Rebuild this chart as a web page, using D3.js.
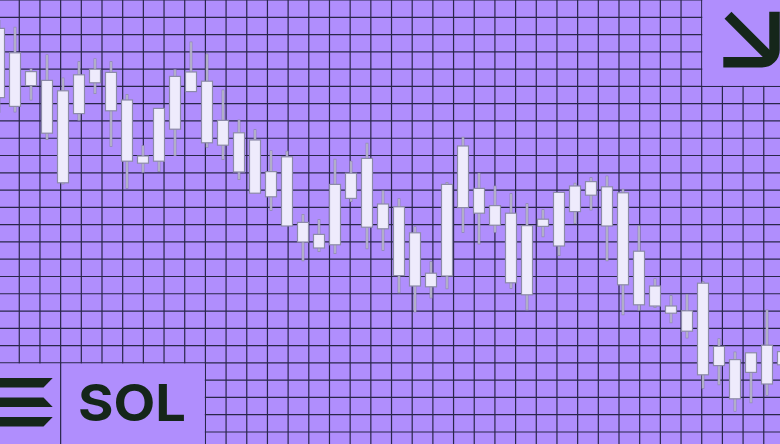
<!DOCTYPE html>
<html><head><meta charset="utf-8">
<script src="https://cdn.jsdelivr.net/npm/d3@7"></script>
<style>html,body{margin:0;padding:0;background:#b08efd;overflow:hidden}</style>
</head><body><svg id="c" width="780" height="444"></svg>
<script>
// ---- data (price units) ----
const high = [206.0,204.3,193.9,197.4,191.6,195.7,196.4,195.7,187.5,174.7,183.9,193.7,200.6,197.6,188.6,181.1,178.7,173.4,173.3,157.5,156.2,171.3,170.8,175.3,163.4,161.4,154.4,145.7,165.5,176.8,167.8,164.6,162.7,160.2,158.7,162.9,165.3,166.7,167.1,163.8,154.7,141.4,137.2,137.5,140.7,126.4,123.1,122.8,133.6,125.3];
const bodyHigh = [203.9,197.8,193.1,190.9,188.3,192.3,193.7,192.9,186.0,172.0,183.9,191.9,193.0,190.7,180.9,177.8,176.0,168.1,171.8,155.4,152.4,164.9,167.7,171.4,160.0,159.3,152.8,142.7,164.9,174.5,163.9,159.6,157.7,154.6,156.2,162.9,164.5,165.6,164.3,162.8,148.2,139.5,134.5,133.3,140.2,124.4,121.1,122.8,124.7,123.1];
const bodyLow = [186.6,184.4,189.6,177.7,165.3,182.6,190.3,183.3,170.7,170.2,170.7,178.7,188.1,175.3,174.7,168.0,162.7,161.8,154.5,150.5,149.0,149.8,161.4,154.2,153.8,142.1,139.5,139.3,142.0,159.1,157.7,154.7,140.3,137.3,154.4,149.5,158.1,162.2,154.5,139.8,134.8,134.5,132.7,128.2,117.3,119.6,111.3,117.9,115.0,119.8];
const low = [182.8,182.9,185.9,176.0,164.9,180.8,187.5,174.3,163.8,167.8,168.0,172.0,188.1,174.1,171.0,166.0,162.7,158.3,154.5,145.7,148.0,147.5,160.5,148.7,148.3,137.7,132.9,136.4,138.7,152.8,149.9,152.8,138.8,133.4,151.7,147.0,155.0,158.4,145.7,132.2,133.3,134.0,130.2,126.4,113.8,114.7,108.1,110.2,112.1,118.0];
const candles = d3.range(high.length);
const gridCols = d3.range(0, 39);
const gridRows = d3.range(0, 27);
const ticker = "SOL";

const W = 780, H = 444;
const BG = "#b08efd", GRID = "#29264a", INK = "#15261a";
const svg = d3.select("#c");

const x = d3.scaleLinear().domain([0, 49]).range([-1, 783]);
const y = d3.scaleLinear().domain([100, 211]).range([H, 0]);
const gx = d3.scaleLinear().domain([0, 38]).range([-1.4, -1.4 + 20.68 * 38]);
const gy = d3.scaleLinear().domain([0, 26]).range([0, 17.28 * 26]);

svg.append("rect").attr("width", W).attr("height", H).attr("fill", BG);

const grid = svg.append("g").attr("stroke", GRID).attr("stroke-width", 1.2);
grid.selectAll("line.v").data(gridCols).join("line").attr("class", "v")
  .attr("x1", d => gx(d)).attr("x2", d => gx(d)).attr("y1", 0).attr("y2", H);
grid.selectAll("line.h").data(gridRows).join("line").attr("class", "h")
  .attr("y1", d => gy(d)).attr("y2", d => gy(d)).attr("x1", 0).attr("x2", W);

// panels without grid
svg.append("rect").attr("x", gx(34) + 0.6).attr("y", -1)
  .attr("width", W - gx(34)).attr("height", gy(5) - 0.6 + 1).attr("fill", BG);
svg.append("rect").attr("x", -1).attr("y", gy(21) + 0.6)
  .attr("width", gx(10) - 0.6 + 1).attr("height", H - gy(21)).attr("fill", BG);
svg.append("line").attr("x1", gx(3)).attr("x2", gx(3)).attr("y1", gy(21)).attr("y2", H)
  .attr("stroke", GRID).attr("stroke-width", 1.2);

// candles
const cg = svg.append("g");
cg.selectAll("line.wick").data(candles).join("line").attr("class", "wick")
  .attr("x1", i => x(i)).attr("x2", i => x(i))
  .attr("y1", i => y(high[i])).attr("y2", i => y(low[i]))
  .attr("stroke", "#8d8ba9").attr("stroke-width", 2.8);
cg.selectAll("line.wickc").data(candles).join("line").attr("class", "wickc")
  .attr("x1", i => x(i)).attr("x2", i => x(i))
  .attr("y1", i => y(high[i]) + 0.7).attr("y2", i => y(low[i]) - 0.7)
  .attr("stroke", "#cfcde2").attr("stroke-width", 1.1);
cg.selectAll("rect.body").data(candles).join("rect").attr("class", "body")
  .attr("x", i => x(i) - 5.5).attr("width", 11)
  .attr("y", i => y(bodyHigh[i])).attr("height", i => y(bodyLow[i]) - y(bodyHigh[i]))
  .attr("fill", "#eeebfc").attr("stroke", "#8c8aa8").attr("stroke-width", 1.2);

// arrow icon
svg.append("path").attr("d", "M728,15.3 L772,59.3").attr("stroke", INK)
  .attr("stroke-width", 9.8).attr("fill", "none");
svg.append("path").attr("d", "M723.3,62.2 H762 A12.5 12.5 0 0 0 774.5 49.7 V11.7")
  .attr("stroke", INK).attr("stroke-width", 10.5).attr("fill", "none");

// Solana mark
const bars = [
  [[-30,378],[52.7,378],[43.5,387.5],[-30,387.5]],
  [[-30,397.5],[43.5,397.5],[52.7,407],[-30,407]],
  [[-30,417],[52.7,417],[43.5,426.5],[-30,426.5]]
];
svg.selectAll("polygon.sol").data(bars).join("polygon").attr("class", "sol")
  .attr("points", d => d.map(p => p.join(",")).join(" ")).attr("fill", INK);

svg.append("text").attr("x", 78).attr("y", 421.3)
  .attr("font-family", "Inter, 'Noto Sans', sans-serif").attr("font-weight", 700)
  .attr("font-size", 51).attr("textLength", 108).attr("lengthAdjust", "spacingAndGlyphs")
  .attr("fill", INK).text(ticker);
</script></body></html>
